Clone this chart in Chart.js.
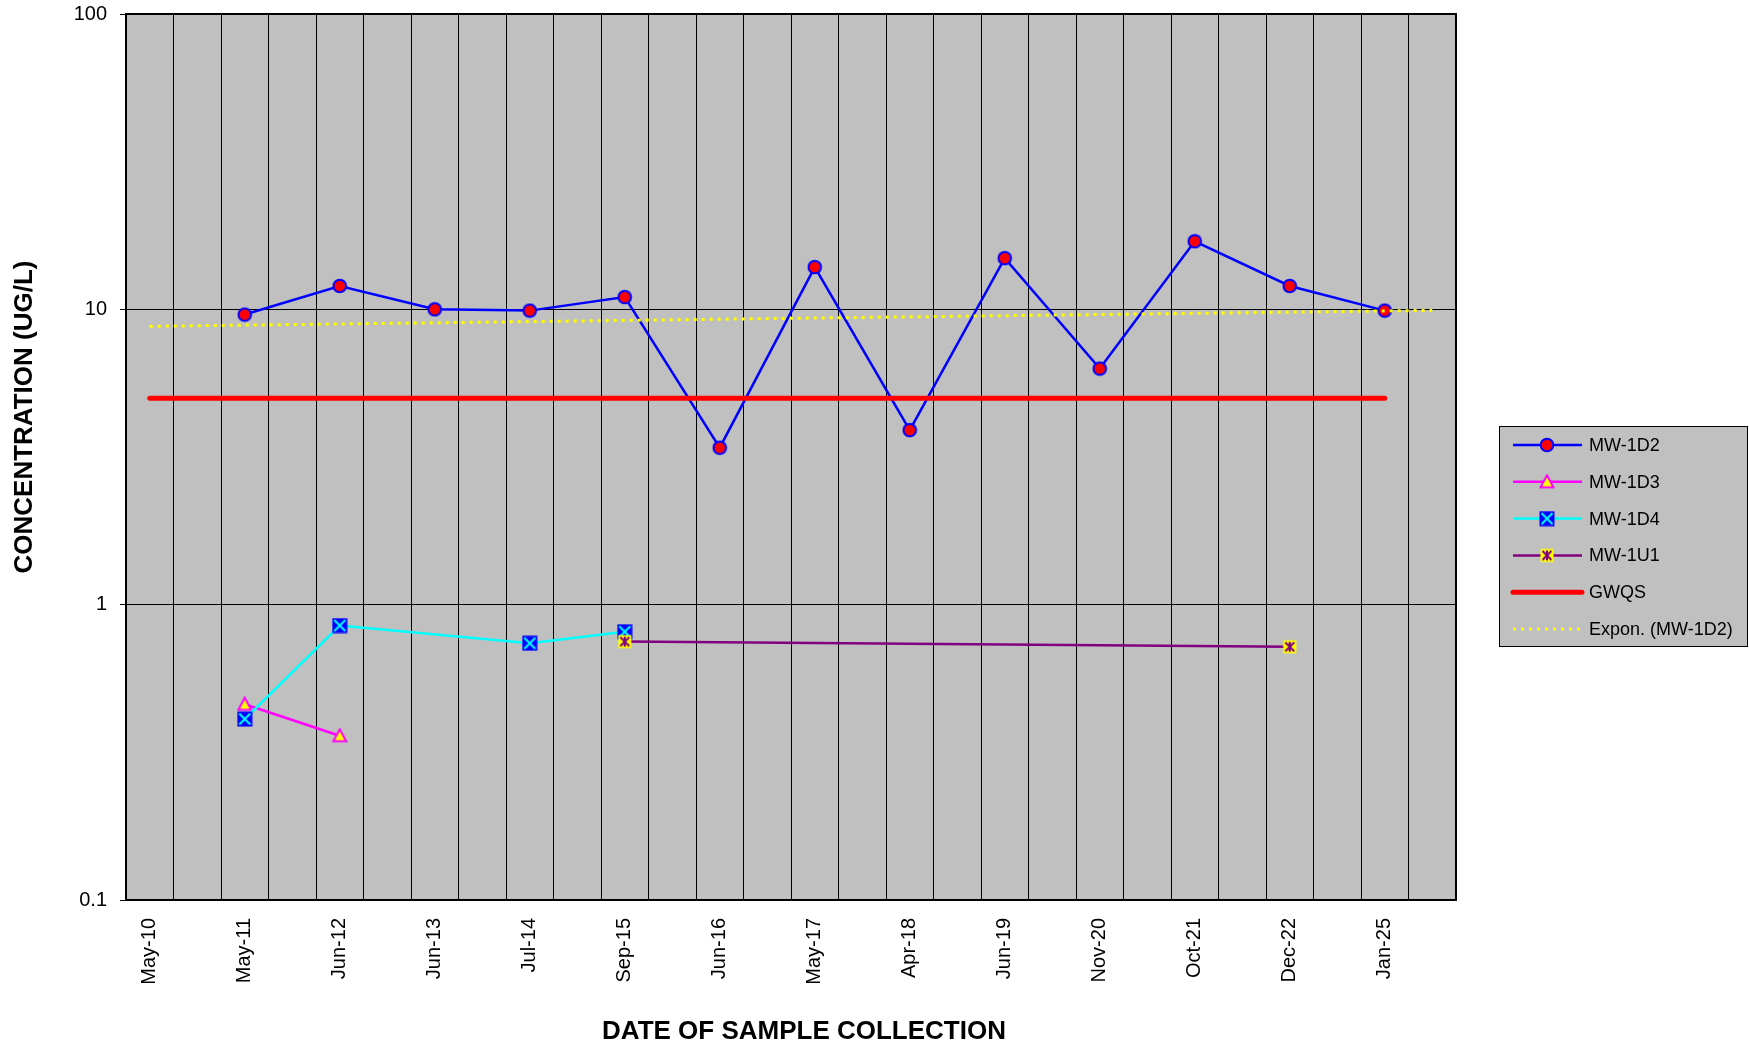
<!DOCTYPE html>
<html>
<head>
<meta charset="utf-8">
<title>Concentration trend</title>
<script src="https://cdn.jsdelivr.net/npm/chart.js@4/dist/chart.umd.min.js"></script>
<style>
  html, body { margin: 0; padding: 0; background: #ffffff; }
  #wrap { width: 1749px; height: 1045px; }
</style>
</head>
<body>
<div id="wrap"><canvas id="chart" width="1749" height="1045"></canvas></div>
<script>
// Sampling events (category axis)
const categories = ['May-10', 'May-11', 'Jun-12', 'Jun-13', 'Jul-14', 'Sep-15', 'Jun-16',
                    'May-17', 'Apr-18', 'Jun-19', 'Nov-20', 'Oct-21', 'Dec-22', 'Jan-25'];

// Well concentrations (ug/L), null = not sampled / not detected
const mw1d2 = [null, 9.6, 12, 10, 9.9, 11, 3.4, 13.9, 3.9, 14.9, 6.3, 17, 12, 9.9];
const mw1d3 = [null, 0.46, 0.36, null, null, null, null, null, null, null, null, null, null, null];
const mw1d4 = [null, 0.41, 0.85, null, 0.74, 0.81, null, null, null, null, null, null, null, null];
const mw1u1 = [null, null, null, null, null, 0.75, null, null, null, null, null, null, 0.72, null];

// Groundwater quality standard
const gwqs = [5, 5, 5, 5, 5, 5, 5, 5, 5, 5, 5, 5, 5, 5];

// Exponential trendline of MW-1D2 (end points, category units)
const trendPos = [0, 13.5];
const trendValues = [8.76, 9.92];

// Axis ticks
const yTicks = [0.1, 1, 10, 100];
const yTickLabels = ['0.1', '1', '10', '100'];

const FONT = "'Liberation Sans', Arial, Helvetica, sans-serif";

function toPoints(values) {
  const pts = [];
  values.forEach((v, i) => { if (v !== null) pts.push({ x: i, y: v }); });
  return pts;
}

// Marker images
function makeMarker(kind) {
  const c = document.createElement('canvas');
  const s = 16;
  c.width = s; c.height = s;
  const g = c.getContext('2d');
  if (kind === 'circle') {
    g.beginPath();
    g.arc(8, 8, 6.3, 0, Math.PI * 2);
    g.fillStyle = '#ff0000';
    g.fill();
    g.lineWidth = 2;
    g.strokeStyle = '#0000ff';
    g.stroke();
  } else if (kind === 'triangle') {
    g.beginPath();
    g.moveTo(8, 1.5);
    g.lineTo(14.5, 13.5);
    g.lineTo(1.5, 13.5);
    g.closePath();
    g.fillStyle = '#ffff00';
    g.fill();
    g.lineWidth = 2;
    g.strokeStyle = '#ff00ff';
    g.stroke();
  } else if (kind === 'boxX') {
    g.fillStyle = '#0000ff';
    g.fillRect(0.5, 0.5, 15, 15);
    g.strokeStyle = '#00ffff';
    g.lineWidth = 2;
    g.beginPath();
    g.moveTo(2.5, 2.5); g.lineTo(13.5, 13.5);
    g.moveTo(13.5, 2.5); g.lineTo(2.5, 13.5);
    g.stroke();
  } else if (kind === 'star') {
    g.fillStyle = '#ffff00';
    g.fillRect(1.5, 1.5, 13, 13);
    g.strokeStyle = '#800080';
    g.lineWidth = 2;
    g.beginPath();
    g.moveTo(3.5, 3.5); g.lineTo(12.5, 12.5);
    g.moveTo(12.5, 3.5); g.lineTo(3.5, 12.5);
    g.moveTo(8, 3); g.lineTo(8, 13);
    g.stroke();
  }
  return c;
}

const markers = {
  circle: makeMarker('circle'),
  triangle: makeMarker('triangle'),
  boxX: makeMarker('boxX'),
  star: makeMarker('star')
};

// Grid/tick positions on the x axis: half-category grid, labels on categories
function xTickValues() {
  const vals = [];
  for (let k = 0; k <= 28; k++) vals.push(-0.25 + 0.5 * k);
  for (let i = 0; i < categories.length; i++) vals.push(i);
  return vals.sort((a, b) => a - b);
}

const legendItems = [
  { label: 'MW-1D2', color: '#0000ff', width: 2.5, marker: 'circle' },
  { label: 'MW-1D3', color: '#ff00ff', width: 2.5, marker: 'triangle' },
  { label: 'MW-1D4', color: '#00ffff', width: 2.5, marker: 'boxX' },
  { label: 'MW-1U1', color: '#800080', width: 2.5, marker: 'star' },
  { label: 'GWQS', color: '#ff0000', width: 5, cap: 'round' },
  { label: 'Expon. (MW-1D2)', color: '#ffff00', width: 3, dash: [3, 5] }
];

const decorPlugin = {
  id: 'decor',
  beforeDraw(chart) {
    const { ctx, chartArea: a } = chart;
    ctx.save();
    ctx.fillStyle = '#ffffff';
    ctx.fillRect(0, 0, chart.width, chart.height);
    ctx.fillStyle = '#c0c0c0';
    ctx.fillRect(a.left, a.top, a.right - a.left, a.bottom - a.top);
    ctx.restore();
  },
  afterDraw(chart) {
    const { ctx, chartArea: a } = chart;
    ctx.save();
    // plot frame
    ctx.strokeStyle = '#000000';
    ctx.lineWidth = 2;
    ctx.strokeRect(a.left, a.top, a.right - a.left, a.bottom - a.top);

    // axis titles
    ctx.fillStyle = '#000000';
    ctx.font = 'bold 26px ' + FONT;
    ctx.textAlign = 'center';
    ctx.textBaseline = 'middle';
    ctx.fillText('DATE OF SAMPLE COLLECTION', 804, 1032);
    ctx.save();
    ctx.translate(25, 417);
    ctx.rotate(-Math.PI / 2);
    ctx.fillText('CONCENTRATION (UG/L)', 0, 0);
    ctx.restore();

    // legend
    const bx = 1499.5, by = 426.5, bw = 248, bh = 220;
    ctx.fillStyle = '#c0c0c0';
    ctx.fillRect(bx, by, bw, bh);
    ctx.strokeStyle = '#000000';
    ctx.lineWidth = 1;
    ctx.strokeRect(bx, by, bw, bh);
    ctx.font = '18px ' + FONT;
    ctx.textAlign = 'left';
    ctx.textBaseline = 'middle';
    legendItems.forEach((it, i) => {
      const y = 445 + i * 36.8;
      ctx.save();
      ctx.strokeStyle = it.color;
      ctx.lineWidth = it.width;
      ctx.lineCap = it.cap || 'butt';
      if (it.dash) ctx.setLineDash(it.dash);
      ctx.beginPath();
      ctx.moveTo(1513, y);
      ctx.lineTo(1582, y);
      ctx.stroke();
      ctx.restore();
      if (it.marker) {
        const m = markers[it.marker];
        ctx.drawImage(m, 1547 - m.width / 2, y - m.height / 2);
      }
      ctx.fillStyle = '#000000';
      ctx.fillText(it.label, 1589, y + 1);
    });
    ctx.restore();
  }
};

new Chart(document.getElementById('chart'), {
  type: 'line',
  data: {
    datasets: [
      {
        label: 'MW-1D2',
        data: toPoints(mw1d2),
        borderColor: '#0000ff',
        borderWidth: 2.5,
        pointStyle: markers.circle,
        pointRadius: 7,
        order: 6
      },
      {
        label: 'MW-1D3',
        data: toPoints(mw1d3),
        borderColor: '#ff00ff',
        borderWidth: 2.5,
        pointStyle: markers.triangle,
        pointRadius: 7,
        order: 5
      },
      {
        label: 'MW-1D4',
        data: toPoints(mw1d4),
        borderColor: '#00ffff',
        borderWidth: 2.5,
        pointStyle: markers.boxX,
        pointRadius: 7,
        order: 4
      },
      {
        label: 'MW-1U1',
        data: toPoints(mw1u1),
        borderColor: '#800080',
        borderWidth: 2.5,
        pointStyle: markers.star,
        pointRadius: 7,
        order: 3
      },
      {
        label: 'GWQS',
        data: toPoints(gwqs),
        borderColor: '#ff0000',
        borderWidth: 5,
        borderCapStyle: 'round',
        pointRadius: 0,
        order: 2
      },
      {
        label: 'Expon. (MW-1D2)',
        data: trendPos.map((x, i) => ({ x: x, y: trendValues[i] })),
        borderColor: '#ffff00',
        borderWidth: 3,
        borderDash: [3, 5],
        pointRadius: 0,
        order: 1
      }
    ]
  },
  options: {
    responsive: false,
    animation: false,
    events: [],
    devicePixelRatio: 1,
    layout: { padding: { left: 0, right: 293, top: 14, bottom: 0 } },
    elements: { line: { tension: 0, fill: false } },
    plugins: { legend: { display: false }, tooltip: { enabled: false }, title: { display: false } },
    scales: {
      x: {
        type: 'linear',
        min: -0.25,
        max: 13.75,
        afterBuildTicks(scale) { scale.ticks = xTickValues().map(v => ({ value: v })); },
        afterFit(scale) { scale.height = 145; scale.paddingLeft = 0; scale.paddingRight = 0; },
        border: { display: false },
        grid: {
          drawTicks: false,
          lineWidth: 1,
          color: (ctx) => (ctx.tick && Number.isInteger(ctx.tick.value)) ? 'rgba(0,0,0,0)' : '#000000'
        },
        ticks: {
          autoSkip: false,
          maxRotation: 90,
          minRotation: 90,
          padding: 18,
          color: '#000000',
          font: { family: FONT, size: 20 },
          callback: (v) => Number.isInteger(v) ? categories[v] : ''
        }
      },
      y: {
        type: 'logarithmic',
        min: 0.1,
        max: 100,
        afterBuildTicks(scale) { scale.ticks = yTicks.map(v => ({ value: v })); },
        afterFit(scale) { scale.width = 126; scale.paddingTop = 0; scale.paddingBottom = 0; },
        border: { display: false },
        grid: { color: '#000000', lineWidth: 1, drawTicks: true, tickLength: 6 },
        ticks: {
          padding: 13,
          color: '#000000',
          font: { family: FONT, size: 20 },
          callback: (v) => { const i = yTicks.indexOf(v); return i >= 0 ? yTickLabels[i] : ''; }
        }
      }
    }
  },
  plugins: [decorPlugin]
});
</script>
</body>
</html>
